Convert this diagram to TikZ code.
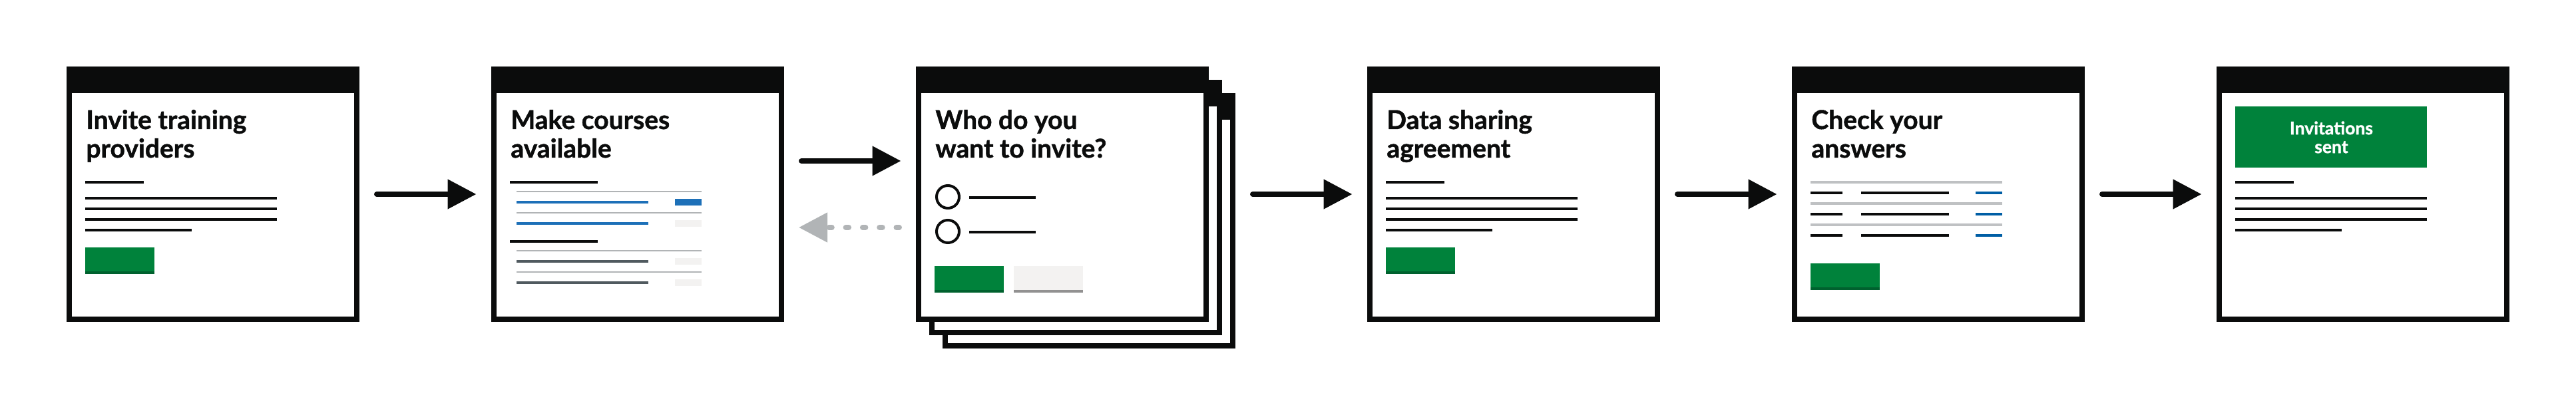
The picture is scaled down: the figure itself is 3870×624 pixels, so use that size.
\documentclass[tikz,border=0pt]{standalone}
\usepackage{fontspec}
\setmainfont{Lato}[BoldFeatures={FakeBold=1.2}]
\usetikzlibrary{calc,arrows.meta}
\definecolor{govblack}{HTML}{0B0C0C}
\definecolor{govgreen}{HTML}{00823B}
\definecolor{govgreendark}{HTML}{00612E}
\definecolor{govblue}{HTML}{1D70B8}
\definecolor{govbluedark}{HTML}{005EA5}
\definecolor{govgrey}{HTML}{B1B4B6}
\definecolor{govrule}{HTML}{BFC1C3}
\definecolor{govdarkgrey}{HTML}{505A5F}
\definecolor{govlight}{HTML}{F3F2F1}
\definecolor{govshadow}{HTML}{929191}
\tikzset{
  screen/.style={draw=govblack, fill=white, line width=4pt, minimum width=216pt, minimum height=188pt, inner sep=0pt},
  heading/.style={anchor=base west, inner sep=0pt, align=left, text=govblack, font=\bfseries\fontsize{19.5pt}{21.5pt}\selectfont},
  txt/.style={draw=govblack, line width=2pt},
  flow/.style={draw=govblack, line width=4pt, line cap=round, shorten <=13pt, shorten >=11.25pt, -{Triangle[length=21.5pt,width=21.5pt]}},
  backflow/.style={draw=govgrey, line width=4pt, line cap=round, dash pattern=on 2.25pt off 10.4pt, shorten <=12.5pt, shorten >=11pt, -{Triangle[length=21.5pt,width=21.5pt]}}
}
\newcommand{\screenpage}[3]{\node[screen] (#1) at (#2,#3) {};
  \fill[govblack] (#1.north west) rectangle ($(#1.north east)+(0,40)$);}
\newcommand{\paralines}{\draw[txt] (28,174) -- (116,174);
  \foreach \y in {198,214,230} \draw[txt] (28,\y) -- (316,\y);
  \draw[txt] (28,246) -- (188,246);}
\newcommand{\gobutton}[2]{\fill[govgreen] (#1,#2) rectangle ++(104,40);
  \fill[govgreendark] (#1,#2+36) rectangle ++(104,4);}

\begin{document}
\begin{tikzpicture}[x=0.5pt, y=-0.5pt]
\useasboundingbox (0,0) rectangle (3870,624);

\screenpage{p1}{320}{292}
\screenpage{p2}{958}{292}
\screenpage{p3c}{1636}{332}
\screenpage{p3b}{1616}{312}
\screenpage{p3}{1596}{292}
\screenpage{p4}{2274}{292}
\screenpage{p5}{2912}{292}
\screenpage{p6}{3550}{292}

% invite
\begin{scope}[shift={(p1.north west)}]
\node[heading] (t1) at (29,137) {Invite training\\providers};
\paralines
\gobutton{28}{272}
\end{scope}

% courses
\begin{scope}[shift={(p2.north west)}]
\node[heading] (t2) at (29,137) {Make courses\\available};
\foreach \y in {174,262.7} \draw[txt] (28,\y) -- (160,\y);
\foreach \y in {188,220,276.7,308.7} \draw[govgrey, line width=1.1pt] (38,\y) -- (316,\y);
\foreach \y in {204,236} \draw[govblue, line width=2pt] (38,\y) -- (236,\y);
\foreach \y in {292.7,324.7} \draw[govdarkgrey, line width=2pt] (38,\y) -- (236,\y);
\fill[govblue] (276,199) rectangle ++(40,10);
\foreach \y in {231,288,320} \fill[govlight] (276,\y) rectangle ++(40,10);
\end{scope}

% who
\begin{scope}[shift={(p3.north west)}]
\node[heading] (t3) at (29,137) {Who do you\\want to invite?};
\foreach \y in {196,248} {
  \draw[govblack, line width=2pt] (48,\y) circle[radius=8.5pt];
  \draw[txt] (80,\y+1.5) -- (180,\y+1.5);
}
\gobutton{28}{300}
\fill[govlight] (147,300) rectangle ++(104,40);
\fill[govshadow] (147,336) rectangle ++(104,4);
\end{scope}

% agreement
\begin{scope}[shift={(p4.north west)}]
\node[heading] (t4) at (29,137) {Data sharing\\agreement};
\paralines
\gobutton{28}{272}
\end{scope}

% answers
\begin{scope}[shift={(p5.north west)}]
\node[heading] (t5) at (29,137) {Check your\\answers};
\foreach \y in {174,206,238} \draw[govrule, line width=2pt] (28,\y) -- (316,\y);
\foreach \y in {190,222,254} {
  \draw[txt] (28,\y) -- (76,\y);
  \draw[txt] (104,\y) -- (236,\y);
  \draw[govbluedark, line width=2pt] (276,\y) -- (316,\y);
}
\gobutton{28}{296}
\end{scope}

% sent
\begin{scope}[shift={(p6.north west)}]
\node[fill=govgreen, anchor=north west, minimum width=144pt, minimum height=46pt, inner sep=0pt, align=center, text=white, font=\bfseries\fontsize{13.25pt}{14pt}\selectfont] (sent) at (28,60) {Invitations\\sent};
\paralines
\end{scope}

\draw[flow] (p1.east) -- (p2.west);
\draw[flow] ($(p2.east)+(0,-50)$) -- ($(p3.west)+(0,-50)$);
\draw[backflow] ($(p3.west)+(0,50)$) -- ($(p2.east)+(0,50)$);
\draw[flow] (p3c.east |- p3.east) -- (p4.west);
\draw[flow] (p4.east) -- (p5.west);
\draw[flow] (p5.east) -- (p6.west);
\end{tikzpicture}
\end{document}
